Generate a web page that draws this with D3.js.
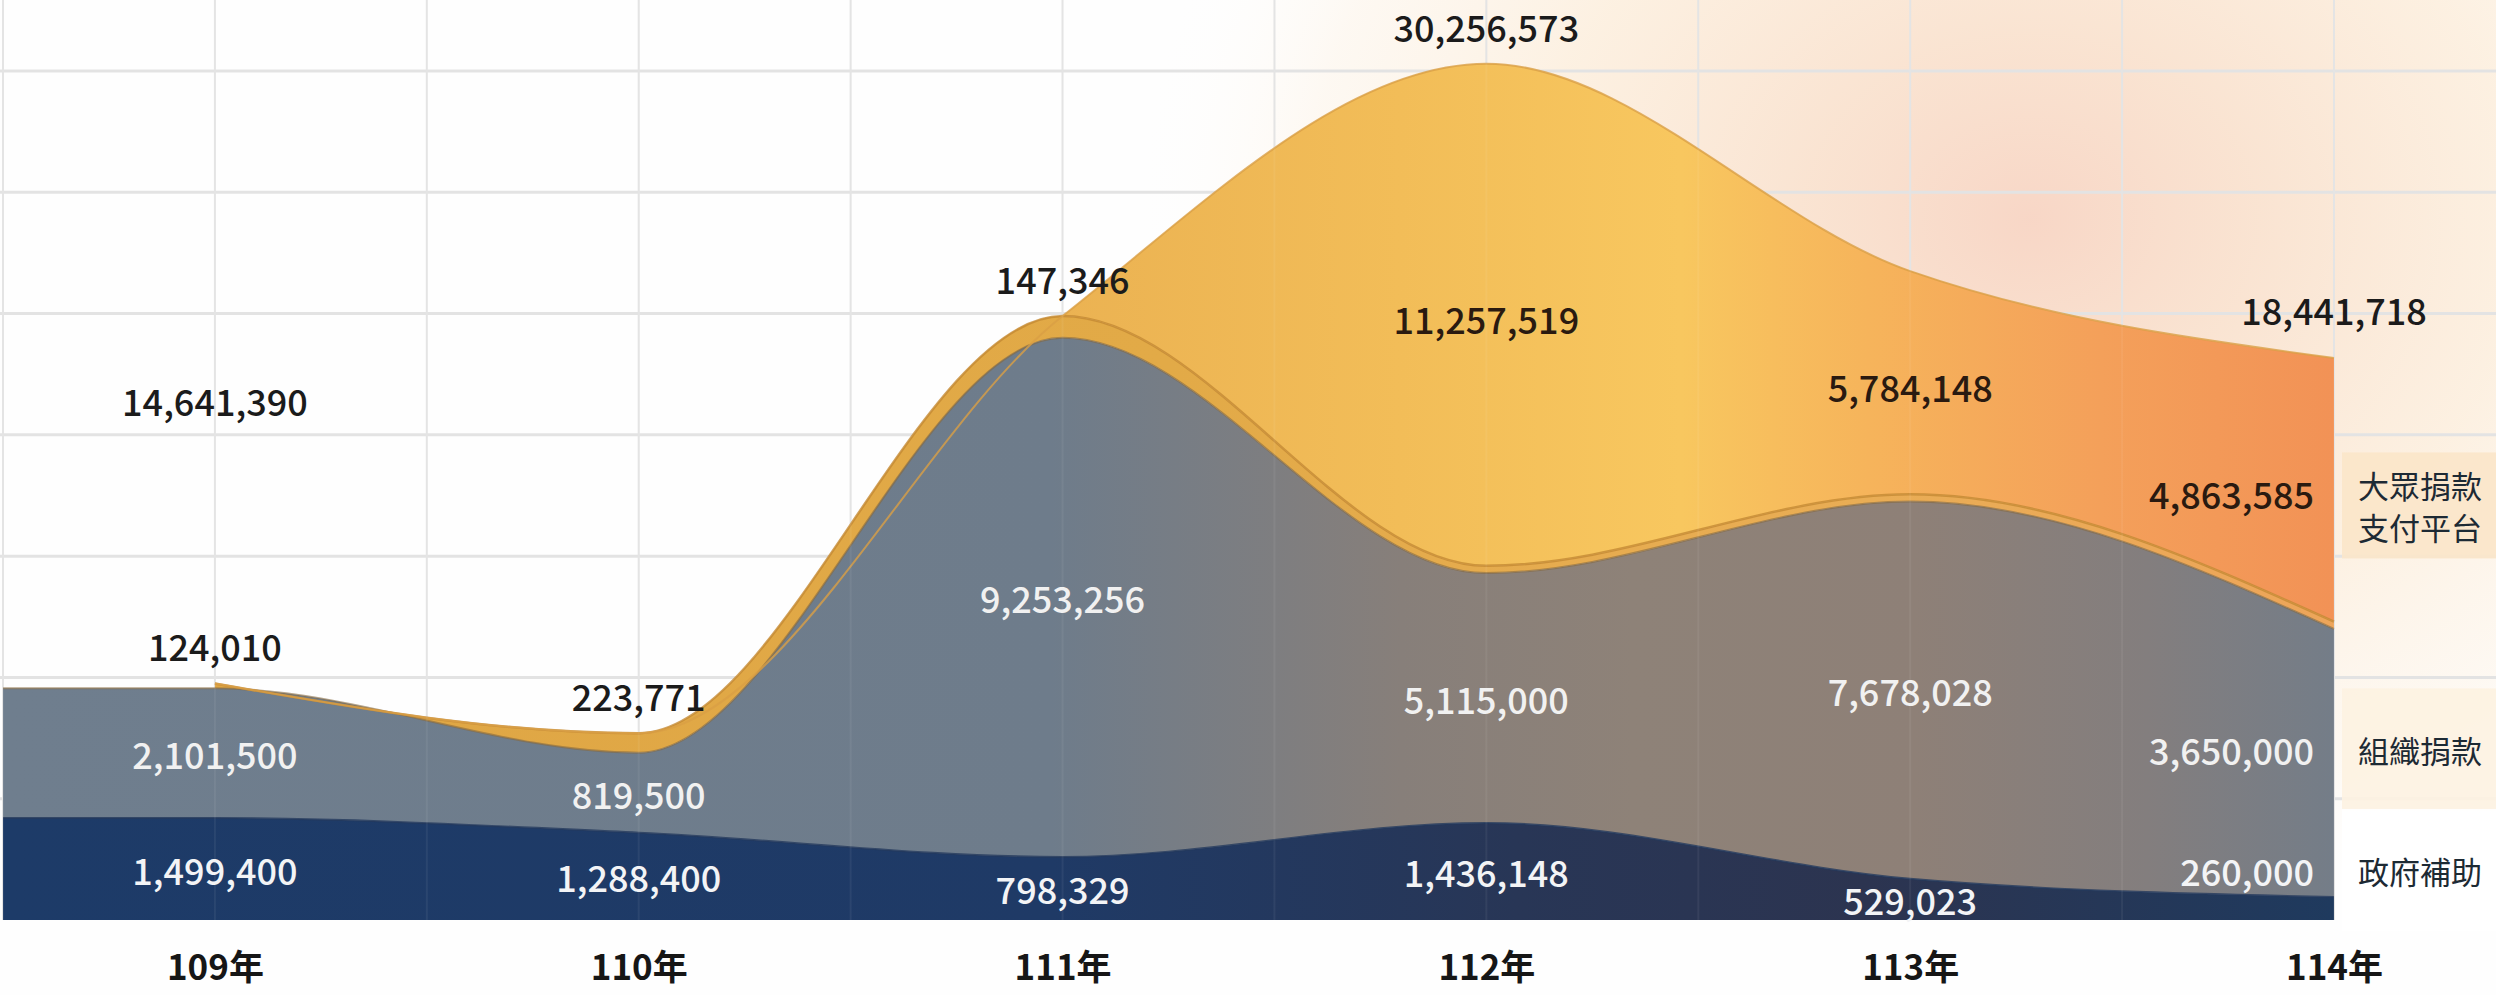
<!DOCTYPE html>
<html>
<head>
<meta charset="utf-8">
<script src="https://cdn.jsdelivr.net/npm/d3@7"></script>
<style>
  html, body { margin: 0; padding: 0; background: #fff; }
  svg { display: block; font-family: "Noto Sans CJK TC", "Noto Sans", sans-serif; }
</style>
</head>
<body>
<svg id="chart"></svg>
<script>
// 各年度
const years = ["109年", "110年", "111年", "112年", "113年", "114年"];
const seriesNames = ["政府補助", "組織捐款", "支付平台", "大眾捐款"];

// band thickness as drawn in the picture (百萬 scale of the picture)
const govBand = [4.2, 3.6, 2.6, 4.0, 1.7, 0.95];
const orgBand = [5.35, 3.3, 21.4, 10.3, 15.55, 11.05];
const payBand = [0.2, 0.8, 0.9, 0.3, 0.3, 0.3];
const publicBand = [0, 0, 0, 20.7, 9.2, 10.87];

// printed values
const govValues = [1499400, 1288400, 798329, 1436148, 529023, 260000];
const orgValues = [2101500, 819500, 9253256, 5115000, 7678028, 3650000];
const payValues = [124010, 223771, 147346, null, null, null];
const publicValues = [null, null, null, 11257519, 5784148, 4863585];
const totalValues = [14641390, null, null, 30256573, null, 18441718];

const width = 2496, height = 995;
const fmt = d3.format(",");

const svg = d3.select("#chart")
  .attr("width", width)
  .attr("height", height)
  .attr("viewBox", "0 0 " + width + " " + height);

const x = d3.scaleLinear().domain([-0.5, 5]).range([3, 2334]);
const y = d3.scaleLinear().domain([0, 35]).range([920, 71]);
// totals are printed higher up, on their own scale
const totalY = d3.scaleLinear().domain([0, 35e6]).range([751, 751 - 35 * 23.95]);

const defs = svg.append("defs");

// background glow at top right
const glow = defs.append("radialGradient").attr("id", "glow")
  .attr("gradientUnits", "userSpaceOnUse")
  .attr("cx", 2030).attr("cy", 220).attr("r", 820)
  .attr("gradientTransform", "translate(2030,220) scale(1.1,0.9) translate(-2030,-220)");
glow.append("stop").attr("offset", 0).attr("stop-color", "#f7d2c0").attr("stop-opacity", 0.9);
glow.append("stop").attr("offset", 0.25).attr("stop-color", "#f9dfca").attr("stop-opacity", 0.85);
glow.append("stop").attr("offset", 0.55).attr("stop-color", "#fcecd8").attr("stop-opacity", 0.75);
glow.append("stop").attr("offset", 0.8).attr("stop-color", "#fdf3e6").attr("stop-opacity", 0.5);
glow.append("stop").attr("offset", 1).attr("stop-color", "#ffffff").attr("stop-opacity", 0);

function hGrad(id, stops) {
  const g = defs.append("linearGradient").attr("id", id)
    .attr("gradientUnits", "userSpaceOnUse")
    .attr("x1", 0).attr("x2", 2334).attr("y1", 0).attr("y2", 0);
  stops.forEach(s => g.append("stop").attr("offset", s[0]).attr("stop-color", s[1]));
}
hGrad("govFill", [[0, "#1d3b68"], [0.45, "#1f3a66"], [0.65, "#283656"], [0.8, "#2c3450"], [1, "#1f3a5e"]]);
hGrad("orgFill", [[0, "#6f7e8e"], [0.45, "#6e7c8b"], [0.6, "#877f7a"], [0.7, "#8e8278"], [0.82, "#8e8077"], [0.92, "#837e7e"], [1, "#747d88"]]);
hGrad("payFill", [[0, "#dea544"], [0.5, "#e2aa47"], [0.8, "#e9ad55"], [1, "#eda55a"]]);
hGrad("pubFill", [[0.45, "#ebb252"], [0.6, "#f2bd58"], [0.72, "#f8c75f"], [0.8, "#f6b45b"], [0.9, "#f4a05a"], [1, "#f29256"]]);

svg.append("rect").attr("width", width).attr("height", height).attr("fill", "#fefefe");
svg.append("rect").attr("width", width).attr("height", 920).attr("fill", "url(#glow)");

// grid
const grid = svg.append("g").attr("stroke", "#e3e3e3");
grid.selectAll("line.v").data(d3.range(-0.5, 5.01, 0.5)).join("line")
  .attr("x1", d => x(d)).attr("x2", d => x(d))
  .attr("y1", 0).attr("y2", 920).attr("stroke-width", 2);
grid.selectAll("line.h").data(d3.range(5, 36, 5)).join("line")
  .attr("x1", 0).attr("x2", width)
  .attr("y1", d => y(d)).attr("y2", d => y(d)).attr("stroke-width", 3);

// legend boxes on the right
const legend = [
  { lines: ["大眾捐款", "支付平台"], fill: "#fbe6c9" },
  { lines: ["組織捐款"], fill: "#fdf2e1" },
  { lines: ["政府補助"], fill: "#ffffff" }
];

// stack
const rows = years.map((yr, i) => ({
  i: i,
  "政府補助": govBand[i],
  "組織捐款": orgBand[i],
  "支付平台": payBand[i],
  "大眾捐款": publicBand[i]
}));
const stacked = d3.stack().keys(seriesNames)(rows);

const area = d3.area()
  .curve(d3.curveMonotoneX)
  .x(d => x(d.i))
  .y0(d => y(d.y0))
  .y1(d => y(d.y1));
const topLine = d3.line()
  .curve(d3.curveMonotoneX)
  .x(d => x(d.i))
  .y(d => y(d.y1));

function pts(layer, extend) {
  const p = layer.map(d => ({ i: d.data.i, y0: d[0], y1: d[1] }));
  if (extend) p.unshift({ i: -0.5, y0: p[0].y0, y1: p[0].y1 });
  return p;
}

const fills = ["url(#govFill)", "url(#orgFill)", "url(#payFill)", "url(#pubFill)"];
const edges = ["#243a5c", "#86693f", "#c48a33", "#d99f45"];
const layers = svg.append("g");
stacked.slice().reverse().forEach(layer => {
  const k = layer.index;
  const p = pts(layer, k < 2);
  layers.append("path").attr("d", area(p)).attr("fill", fills[k]);
});
// edges on top of fills
stacked.forEach(layer => {
  const k = layer.index;
  const p = pts(layer, k < 2);
  layers.append("path").attr("d", topLine(p))
    .attr("fill", "none").attr("stroke", edges[k])
    .attr("stroke-width", k === 2 ? 2.5 : 2).attr("stroke-opacity", k === 1 ? 0.6 : 0.8);
});

// faint grid lines through the areas
svg.append("g").attr("stroke", "#ffffff").attr("stroke-opacity", 0.06)
  .selectAll("line").data(d3.range(-0.5, 5.01, 0.5)).join("line")
  .attr("x1", d => x(d)).attr("x2", d => x(d))
  .attr("y1", 0).attr("y2", 920).attr("stroke-width", 2);

// value labels
const labels = svg.append("g").attr("font-size", 36).attr("font-weight", 500)
  .attr("dominant-baseline", "central");

function bandMid(k, i) {
  const l = stacked[k][i];
  return (y(l[0]) + y(l[1])) / 2;
}
function lx(i) { return i === 5 ? x(5) - 20 : x(i); }
function anchor(i) { return i === 5 ? "end" : "middle"; }

const govLabelY = [];
govValues.forEach((v, i) => {
  const l = stacked[0][i];
  const thick = y(l[0]) - y(l[1]);
  const yy = thick < 30 ? y(l[1]) - 27 : bandMid(0, i);
  govLabelY.push(yy);
  labels.append("text").attr("x", lx(i)).attr("y", yy)
    .attr("text-anchor", anchor(i)).attr("fill", "#f3f4f6").text(fmt(v));
});
orgValues.forEach((v, i) => {
  const l = stacked[1][i];
  const yy = (y(l[1]) + Math.min(govLabelY[i], y(l[0]))) / 2;
  if (i === 5) legend[1].y = yy;
  labels.append("text").attr("x", lx(i)).attr("y", yy)
    .attr("text-anchor", anchor(i)).attr("fill", "#f1f1f1").text(fmt(v));
});
legend[2].y = govLabelY[5];
payValues.forEach((v, i) => {
  if (v == null) return;
  labels.append("text").attr("x", x(i)).attr("y", y(stacked[3][i][1]) - 38)
    .attr("text-anchor", "middle").attr("fill", "#1b1b1b").text(fmt(v));
});
publicValues.forEach((v, i) => {
  if (v == null) return;
  const l = stacked[3][i];
  const yy = (y(l[1]) + y(stacked[1][i][1])) / 2;
  if (i === 5) legend[0].y = yy + 12;
  labels.append("text").attr("x", lx(i)).attr("y", yy)
    .attr("text-anchor", anchor(i)).attr("fill", "#2a1a10").text(fmt(v));
});
totalValues.forEach((v, i) => {
  if (v == null) return;
  labels.append("text").attr("x", x(i)).attr("y", totalY(v))
    .attr("text-anchor", "middle").attr("fill", "#1b1b1b").text(fmt(v));
});

// legend
const lg = svg.append("g").attr("font-size", 31).attr("fill", "#1d2a34");
legend.forEach(d => {
  const h = d.lines.length > 1 ? 106 : 122;
  lg.append("rect").attr("x", 2342).attr("y", d.y - h / 2).attr("width", width - 2342)
    .attr("height", h).attr("fill", d.fill).attr("fill-opacity", 0.9);
  const t = lg.append("text").attr("text-anchor", "middle").attr("dominant-baseline", "central");
  d.lines.forEach((s, j) => {
    t.append("tspan").attr("x", 2420)
      .attr("y", d.y + (j - (d.lines.length - 1) / 2) * 42)
      .text(s);
  });
});

// year axis
const axis = svg.append("g").attr("transform", "translate(0,920)")
  .call(d3.axisBottom(x).tickValues(d3.range(years.length)).tickFormat(i => years[i]).tickSize(0));
axis.select(".domain").remove();
axis.selectAll("text")
  .attr("y", 48).attr("dy", "0.35em")
  .attr("font-size", 35).attr("font-weight", 700).attr("fill", "#161616")
  .attr("font-family", "'Noto Sans CJK TC', sans-serif");
</script>
</body>
</html>
